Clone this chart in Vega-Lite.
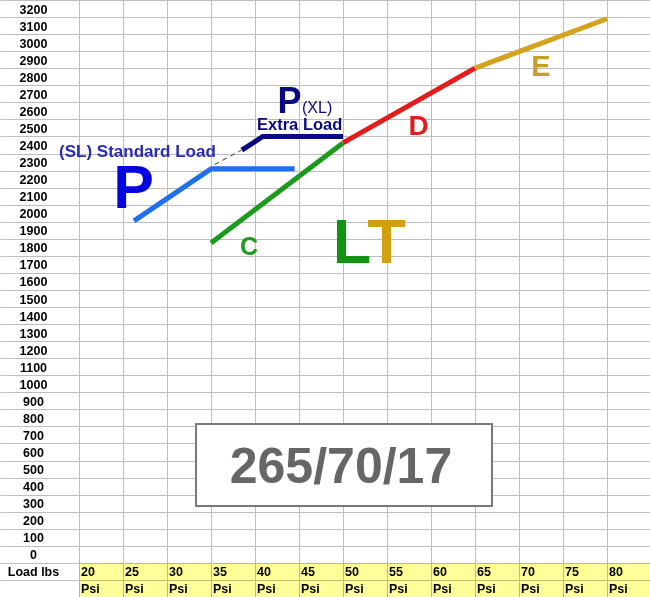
{
  "$schema": "https://vega.github.io/schema/vega-lite/v6.json",
  "width": 650,
  "height": 597,
  "autosize": {"type": "fit", "contains": "padding"},
  "padding": 0,
  "background": "white",
  "config": {"view": {"stroke": null}, "font": "Liberation Sans"},
  "datasets": {
    "band": [
      {"psi": 20, "psi2": 84.886, "load": -250, "load2": -50}
    ],
    "headers": [
      {"psi": 20, "load": -100, "label": "20"},
      {"psi": 25, "load": -100, "label": "25"},
      {"psi": 30, "load": -100, "label": "30"},
      {"psi": 35, "load": -100, "label": "35"},
      {"psi": 40, "load": -100, "label": "40"},
      {"psi": 45, "load": -100, "label": "45"},
      {"psi": 50, "load": -100, "label": "50"},
      {"psi": 55, "load": -100, "label": "55"},
      {"psi": 60, "load": -100, "label": "60"},
      {"psi": 65, "load": -100, "label": "65"},
      {"psi": 70, "load": -100, "label": "70"},
      {"psi": 75, "load": -100, "label": "75"},
      {"psi": 80, "load": -100, "label": "80"},
      {"psi": 20, "load": -200, "label": "Psi"},
      {"psi": 25, "load": -200, "label": "Psi"},
      {"psi": 30, "load": -200, "label": "Psi"},
      {"psi": 35, "load": -200, "label": "Psi"},
      {"psi": 40, "load": -200, "label": "Psi"},
      {"psi": 45, "load": -200, "label": "Psi"},
      {"psi": 50, "load": -200, "label": "Psi"},
      {"psi": 55, "load": -200, "label": "Psi"},
      {"psi": 60, "load": -200, "label": "Psi"},
      {"psi": 65, "load": -200, "label": "Psi"},
      {"psi": 70, "load": -200, "label": "Psi"},
      {"psi": 75, "load": -200, "label": "Psi"},
      {"psi": 80, "load": -200, "label": "Psi"}
    ],
    "ylabels": [
      {"psi": 14.83, "load": 3200, "label": "3200"},
      {"psi": 14.83, "load": 3100, "label": "3100"},
      {"psi": 14.83, "load": 3000, "label": "3000"},
      {"psi": 14.83, "load": 2900, "label": "2900"},
      {"psi": 14.83, "load": 2800, "label": "2800"},
      {"psi": 14.83, "load": 2700, "label": "2700"},
      {"psi": 14.83, "load": 2600, "label": "2600"},
      {"psi": 14.83, "load": 2500, "label": "2500"},
      {"psi": 14.83, "load": 2400, "label": "2400"},
      {"psi": 14.83, "load": 2300, "label": "2300"},
      {"psi": 14.83, "load": 2200, "label": "2200"},
      {"psi": 14.83, "load": 2100, "label": "2100"},
      {"psi": 14.83, "load": 2000, "label": "2000"},
      {"psi": 14.83, "load": 1900, "label": "1900"},
      {"psi": 14.83, "load": 1800, "label": "1800"},
      {"psi": 14.83, "load": 1700, "label": "1700"},
      {"psi": 14.83, "load": 1600, "label": "1600"},
      {"psi": 14.83, "load": 1500, "label": "1500"},
      {"psi": 14.83, "load": 1400, "label": "1400"},
      {"psi": 14.83, "load": 1300, "label": "1300"},
      {"psi": 14.83, "load": 1200, "label": "1200"},
      {"psi": 14.83, "load": 1100, "label": "1100"},
      {"psi": 14.83, "load": 1000, "label": "1000"},
      {"psi": 14.83, "load": 900, "label": "900"},
      {"psi": 14.83, "load": 800, "label": "800"},
      {"psi": 14.83, "load": 700, "label": "700"},
      {"psi": 14.83, "load": 600, "label": "600"},
      {"psi": 14.83, "load": 500, "label": "500"},
      {"psi": 14.83, "load": 400, "label": "400"},
      {"psi": 14.83, "load": 300, "label": "300"},
      {"psi": 14.83, "load": 200, "label": "200"},
      {"psi": 14.83, "load": 100, "label": "100"},
      {"psi": 14.83, "load": 0, "label": "0"},
      {"psi": 14.83, "load": -100, "label": "Load lbs"}
    ],
    "lines": [
      {"series": "SL", "order": 1, "psi": 26.25, "load": 1955},
      {"series": "SL", "order": 2, "psi": 35, "load": 2260},
      {"series": "SL", "order": 3, "psi": 44.5, "load": 2260},
      {"series": "XL", "order": 1, "psi": 38.5, "load": 2370},
      {"series": "XL", "order": 2, "psi": 40.9, "load": 2450},
      {"series": "XL", "order": 3, "psi": 50, "load": 2450},
      {"series": "C", "order": 1, "psi": 35, "load": 1825},
      {"series": "C", "order": 2, "psi": 50, "load": 2412},
      {"series": "D", "order": 1, "psi": 50, "load": 2412},
      {"series": "D", "order": 2, "psi": 65, "load": 2851},
      {"series": "E", "order": 1, "psi": 65, "load": 2851},
      {"series": "E", "order": 2, "psi": 80, "load": 3140}
    ],
    "dash": [
      {"psi": 35.4, "load": 2285},
      {"psi": 38.4, "load": 2368}
    ]
  },
  "encoding": {
    "x": {
      "field": "psi",
      "type": "quantitative",
      "scale": {"domain": [11.0227, 84.886], "nice": false, "zero": false},
      "axis": {
        "values": [20, 25, 30, 35, 40, 45, 50, 55, 60, 65, 70, 75, 80],
        "labels": false, "ticks": false, "domain": false, "title": null,
        "grid": true, "gridColor": "#bdbdbd", "gridWidth": 1, "gridOpacity": 1
      }
    },
    "y": {
      "field": "load",
      "type": "quantitative",
      "scale": {"domain": [-250, 3250], "nice": false, "zero": false},
      "axis": {
        "values": [-150, -50, 50, 150, 250, 350, 450, 550, 650, 750, 850, 950, 1050, 1150, 1250, 1350, 1450, 1550, 1650, 1750, 1850, 1950, 2050, 2150, 2250, 2350, 2450, 2550, 2650, 2750, 2850, 2950, 3050, 3150, 3250],
        "labels": false, "ticks": false, "domain": false, "title": null,
        "grid": true, "gridColor": "#bdbdbd", "gridWidth": 1, "gridOpacity": 1
      }
    }
  },
  "layer": [
    {
      "data": {"name": "band"},
      "mark": {"type": "rect", "fill": "#ffff99", "blend": "multiply"},
      "encoding": {
        "x2": {"field": "psi2"},
        "y2": {"field": "load2"}
      }
    },
    {
      "data": {"name": "headers"},
      "mark": {"type": "text", "align": "left", "baseline": "middle", "dx": 2, "dy": 1, "fontSize": 12.5, "fontWeight": "bold", "color": "black"},
      "encoding": {"text": {"field": "label"}}
    },
    {
      "data": {"name": "ylabels"},
      "mark": {"type": "text", "align": "center", "baseline": "middle", "dy": 1, "fontSize": 12.5, "fontWeight": "bold", "color": "black"},
      "encoding": {"text": {"field": "label"}}
    },
    {
      "data": {"values": [{"psi": 33.3, "psi2": 66.93, "load": 764, "load2": 283.5}]},
      "mark": {"type": "rect", "fill": "white", "stroke": "#787878", "strokeWidth": 2},
      "encoding": {"x2": {"field": "psi2"}, "y2": {"field": "load2"}}
    },
    {
      "data": {"values": [{"psi": 49.77, "load": 418, "label": "265/70/17"}]},
      "mark": {"type": "text", "align": "center", "baseline": "alphabetic", "fontSize": 50, "fontWeight": "bold", "color": "#666666"},
      "encoding": {"text": {"field": "label"}}
    },
    {
      "data": {"name": "dash"},
      "mark": {"type": "line", "stroke": "#333355", "strokeWidth": 1, "strokeDash": [5, 4]},
      "encoding": {}
    },
    {
      "data": {"name": "lines"},
      "mark": {"type": "line", "strokeWidth": 5, "strokeCap": "butt", "strokeJoin": "round"},
      "encoding": {
        "detail": {"field": "series"},
        "order": {"field": "order"},
        "color": {
          "field": "series",
          "type": "nominal",
          "scale": {"domain": ["SL", "XL", "C", "D", "E"], "range": ["#1e70eb", "#0a0a80", "#1b9a1b", "#e41b1b", "#d4a21c"]},
          "legend": null
        }
      }
    },
    {
      "data": {"values": [{"psi": 17.73, "load": 2330, "label": "(SL) Standard Load"}]},
      "mark": {"type": "text", "align": "left", "baseline": "alphabetic", "fontSize": 17, "fontWeight": "bold", "color": "#2a2ab4"},
      "encoding": {"text": {"field": "label"}}
    },
    {
      "data": {"values": [{"psi": 26.19, "load": 2031, "label": "P"}]},
      "mark": {"type": "text", "align": "center", "baseline": "alphabetic", "fontSize": 61, "fontWeight": "bold", "color": "#0505e0"},
      "encoding": {"text": {"field": "label"}}
    },
    {
      "data": {"values": [{"psi": 43.92, "load": 2588, "label": "P"}]},
      "mark": {"type": "text", "align": "center", "baseline": "alphabetic", "fontSize": 36, "fontWeight": "bold", "color": "#0a0a80"},
      "encoding": {"text": {"field": "label"}}
    },
    {
      "data": {"values": [{"psi": 45.34, "load": 2587, "label": "(XL)"}]},
      "mark": {"type": "text", "align": "left", "baseline": "alphabetic", "fontSize": 16, "fontWeight": "normal", "color": "#0a0a80"},
      "encoding": {"text": {"field": "label"}}
    },
    {
      "data": {"values": [{"psi": 40.23, "load": 2488, "label": "Extra Load"}]},
      "mark": {"type": "text", "align": "left", "baseline": "alphabetic", "fontSize": 16.5, "fontWeight": "bold", "color": "#0a0a80"},
      "encoding": {"text": {"field": "label"}}
    },
    {
      "data": {"values": [{"psi": 39.32, "load": 1755, "label": "C"}]},
      "mark": {"type": "text", "align": "center", "baseline": "alphabetic", "fontSize": 25, "fontWeight": "bold", "color": "#1f9a1f"},
      "encoding": {"text": {"field": "label"}}
    },
    {
      "data": {"values": [{"psi": 51.02, "load": 1708, "label": "L"}]},
      "mark": {"type": "text", "align": "center", "baseline": "alphabetic", "fontSize": 63, "fontWeight": "bold", "color": "#129412"},
      "encoding": {"text": {"field": "label"}}
    },
    {
      "data": {"values": [{"psi": 54.94, "load": 1708, "label": "T"}]},
      "mark": {"type": "text", "align": "center", "baseline": "alphabetic", "fontSize": 63, "fontWeight": "bold", "color": "#d0a010"},
      "encoding": {"text": {"field": "label"}}
    },
    {
      "data": {"values": [{"psi": 58.58, "load": 2458, "label": "D"}]},
      "mark": {"type": "text", "align": "center", "baseline": "alphabetic", "fontSize": 28, "fontWeight": "bold", "color": "#e41b1b"},
      "encoding": {"text": {"field": "label"}}
    },
    {
      "data": {"values": [{"psi": 72.5, "load": 2804, "label": "E"}]},
      "mark": {"type": "text", "align": "center", "baseline": "alphabetic", "fontSize": 29, "fontWeight": "bold", "color": "#c9a020"},
      "encoding": {"text": {"field": "label"}}
    }
  ]
}
